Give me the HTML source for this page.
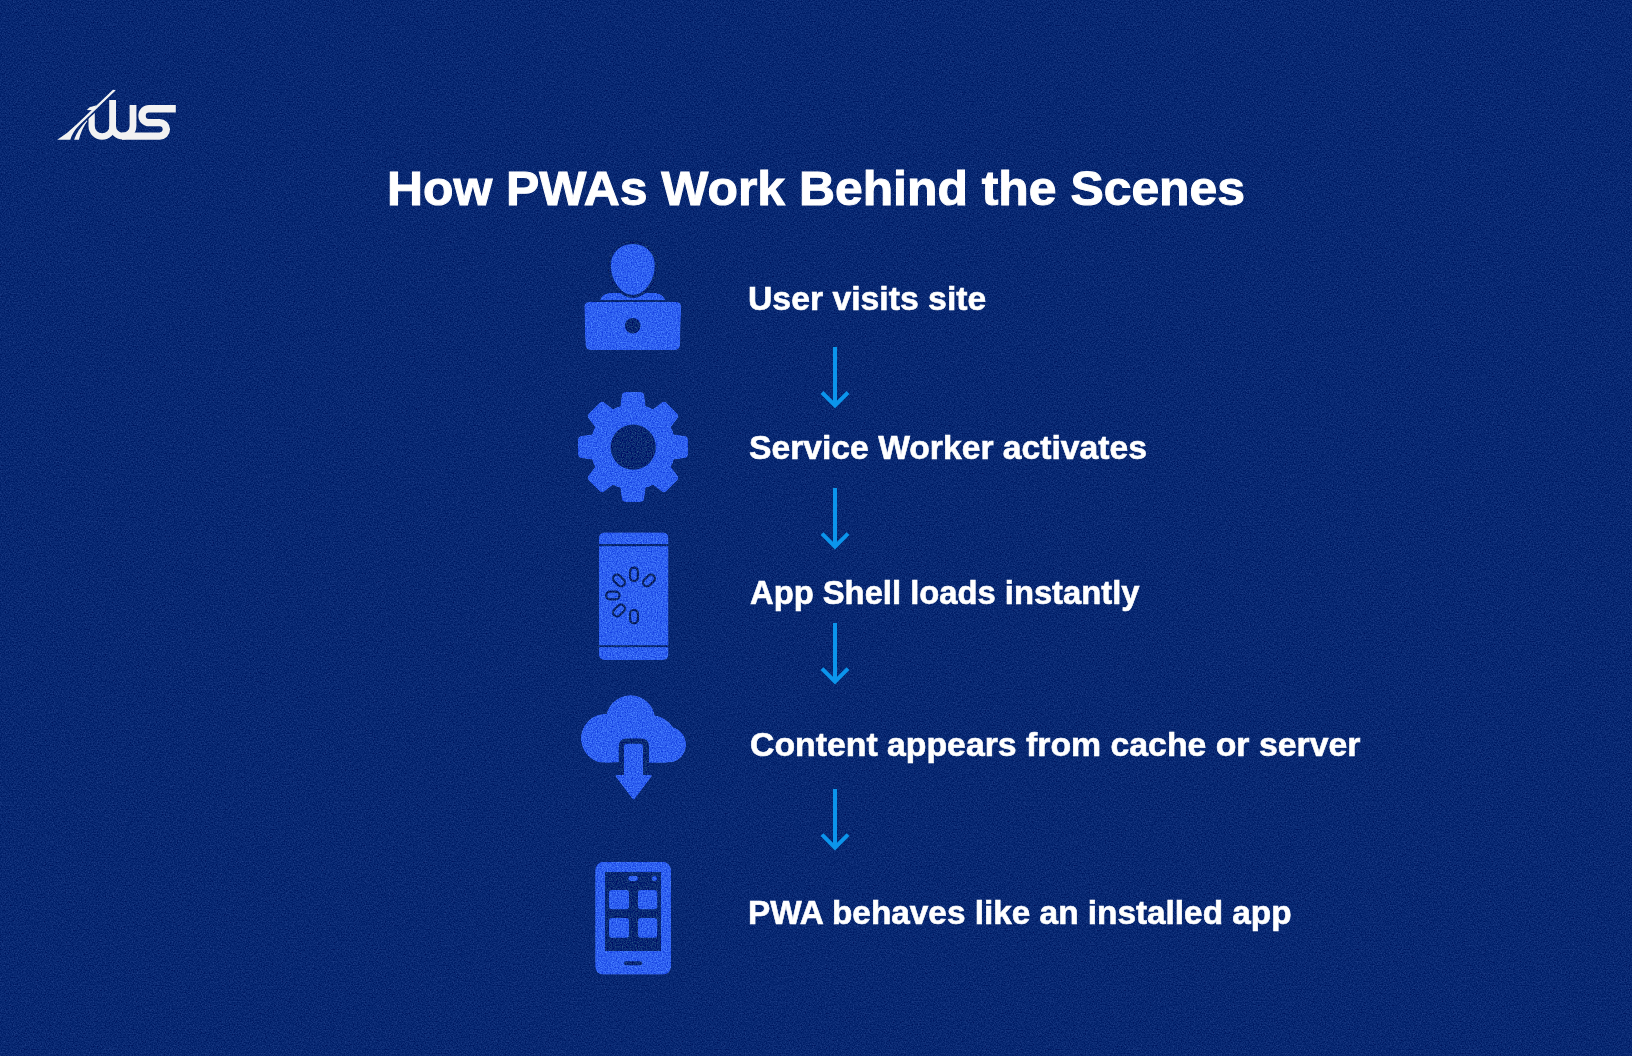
<!DOCTYPE html>
<html>
<head>
<meta charset="utf-8">
<style>
html,body{margin:0;padding:0;}
body{width:1632px;height:1056px;overflow:hidden;position:relative;background:#082872;font-family:"Liberation Sans",sans-serif;}
.t{position:absolute;white-space:nowrap;line-height:1;color:#fff;font-weight:700;transform-origin:0 0;}
svg.abs{position:absolute;left:0;top:0;}
</style>
</head>
<body>
<svg class="abs" width="1632" height="1056" viewBox="0 0 1632 1056">
  <defs><clipPath id="wclip"><path d="M80,126.3 L100,108.2 L120,108.2 L120,150 L80,150 Z"/></clipPath><clipPath id="cloudclip"><rect x="570" y="680" width="130" height="82.8"/></clipPath>
    <filter id="nzBg" x="0" y="0" width="1632" height="1056" filterUnits="userSpaceOnUse" color-interpolation-filters="sRGB">
      <feTurbulence type="fractalNoise" baseFrequency="0.75" numOctaves="2" seed="7" result="t"/>
      <feColorMatrix in="t" type="matrix" values="0.6 0 0 0 0.2  0.6 0 0 0 0.2  0.6 0 0 0 0.2  0 0 0 0 1" result="n"/>
      <feComposite in="SourceGraphic" in2="n" operator="arithmetic" k1="0" k2="1" k3="0.4" k4="-0.2"/>
    </filter>
    <filter id="nzIc" x="560" y="230" width="140" height="760" filterUnits="userSpaceOnUse" color-interpolation-filters="sRGB">
      <feTurbulence type="fractalNoise" baseFrequency="0.8" numOctaves="2" seed="3" result="t"/>
      <feColorMatrix in="t" type="matrix" values="0.8 0 0 0 0.1  1 0 0 0 0  0.5 0 0 0 0.25  0 0 0 0 1" result="n"/>
      <feComposite in="SourceGraphic" in2="n" operator="arithmetic" k1="0" k2="1" k3="0.5" k4="-0.25" result="c"/>
      <feComposite in="c" in2="SourceGraphic" operator="in"/>
    </filter>
  </defs>
  <rect width="1632" height="1056" fill="#082872" filter="url(#nzBg)"/>
  <!-- logo -->
  <g fill="none" stroke="#f2f2f2">
    <path d="M91.65,112 V126 A10.45,10.45 0 0 0 112.6,126" stroke-width="6.3" clip-path="url(#wclip)"/>
    <path d="M112.6,100 V126 A10.2,10.2 0 0 0 133,126 V105" stroke-width="6.8"/>
    <path d="M175.8,108.7 H149 A6.95,6.95 0 0 0 149,122.6 H159.6 A6.75,6.75 0 0 1 159.6,136.1 H122" stroke-width="7.4"/>
  </g>
  <g fill="#f2f2f2">
    <path d="M113,89.8 L115.8,90.3 L89,116 L79,125.5 Q72.5,132 70.3,139.8 L57.2,139.8 Q68,133 76.5,124.5 L87.8,113.8 Z"/>
    <path d="M86.8,120.4 L87.4,121 Q81.5,129 78.9,139.8 L74.1,139.8 Q77.5,129.5 86.8,120.4 Z"/>
    <path d="M86.8,109.9 L89.6,107.3 L96.5,105.2 L93.6,110.3 Z"/>
  </g>
  <g fill="#2e60f0" filter="url(#nzIc)">
    <!-- icon 1: user at laptop -->
    <path d="M600,300 C601.5,295.5 605,293 611,293 L654,293 C660,293 663.5,295.5 665.5,300 Z"/>
    <path d="M632.8,242.6 C647,242.6 656.2,252.5 656.2,265.5 C656.2,281.5 645.5,296.4 632.8,296.4 C620.1,296.4 609.4,281.5 609.4,265.5 C609.4,252.5 618.6,242.6 632.8,242.6 Z" stroke="#082872" stroke-width="3"/>
    <path d="M589,302 H676.5 Q681.3,302 681.2,307 L680.2,344.5 Q680,350.2 674.5,350.2 H591 Q585.5,350.2 585.3,344.5 L584.2,307 Q584.1,302 589,302 Z"/>
    <circle cx="632.7" cy="325.8" r="7.8" fill="#082872"/>

    <!-- icon 2: gear -->
    <circle cx="633" cy="447" r="43"/>
    <g stroke="#2e60f0" stroke-width="7.6" stroke-linejoin="round">
      <path d="M-9.6,-36 L-7.6,-51.2 L7.6,-51.2 L9.6,-36 Z" transform="translate(633 447) rotate(0)"/>
      <path d="M-9.6,-36 L-7.6,-51.2 L7.6,-51.2 L9.6,-36 Z" transform="translate(633 447) rotate(45)"/>
      <path d="M-9.6,-36 L-7.6,-51.2 L7.6,-51.2 L9.6,-36 Z" transform="translate(633 447) rotate(90)"/>
      <path d="M-9.6,-36 L-7.6,-51.2 L7.6,-51.2 L9.6,-36 Z" transform="translate(633 447) rotate(135)"/>
      <path d="M-9.6,-36 L-7.6,-51.2 L7.6,-51.2 L9.6,-36 Z" transform="translate(633 447) rotate(180)"/>
      <path d="M-9.6,-36 L-7.6,-51.2 L7.6,-51.2 L9.6,-36 Z" transform="translate(633 447) rotate(225)"/>
      <path d="M-9.6,-36 L-7.6,-51.2 L7.6,-51.2 L9.6,-36 Z" transform="translate(633 447) rotate(270)"/>
      <path d="M-9.6,-36 L-7.6,-51.2 L7.6,-51.2 L9.6,-36 Z" transform="translate(633 447) rotate(315)"/>
    </g>
    <circle cx="633.2" cy="447.2" r="22.6" fill="#082872"/>

    <!-- icon 3: phone loading -->
    <rect x="598.8" y="532.2" width="69.8" height="127.8" rx="5.5"/>
    <rect x="597" y="544" width="73" height="2.2" fill="#082872"/>
    <rect x="597" y="645.2" width="73" height="2" fill="#082872"/>
    <g stroke="#0a2463" stroke-width="2.2" transform="translate(634 595.5)">
      <rect x="-3.9" y="-27.9" width="7.8" height="13.4" rx="3.9" transform="rotate(0)"/>
      <rect x="-3.9" y="-27.9" width="7.8" height="13.4" rx="3.9" transform="rotate(45)"/>
      <rect x="-3.9" y="-27.9" width="7.8" height="13.4" rx="3.9" transform="rotate(-45)"/>
      <rect x="-3.9" y="-27.9" width="7.8" height="13.4" rx="3.9" transform="rotate(-90)"/>
      <rect x="-3.9" y="-27.9" width="7.8" height="13.4" rx="3.9" transform="rotate(-135)"/>
      <rect x="-3.9" y="-27.9" width="7.8" height="13.4" rx="3.9" transform="rotate(180)"/>
    </g>

    <!-- icon 4: cloud download -->
    <g clip-path="url(#cloudclip)">
    <circle cx="605.6" cy="738.5" r="24.8"/>
    <circle cx="630.5" cy="719.8" r="24.8"/>
    <circle cx="651" cy="741" r="26"/>
    <circle cx="668" cy="744.6" r="18.2"/>
    <rect x="605" y="730" width="63" height="32.8"/>
    </g>
    <path d="M618.8,775 V746.5 Q618.8,738.5 626.8,738.5 H641 Q649,738.5 649,746.5 V775 Z" fill="#082872"/>
    <path d="M624,775 V747 Q624,743.8 627.2,743.8 H639.8 Q643,743.8 643,747 V775 Z"/>
    <path d="M616.5,775 H651 Q653,775 651.6,776.8 L635,798.8 Q633.6,800.6 632.2,798.8 L615.6,776.8 Q614.4,775 616.5,775 Z"/>

    <!-- icon 5: phone apps -->
    <rect x="595.1" y="861.8" width="76" height="113" rx="8"/>
    <rect x="605" y="872" width="56" height="79" fill="#082872"/>
    <rect x="628.3" y="876" width="9.7" height="4.9" rx="2.4"/>
    <circle cx="654.5" cy="878.6" r="2.5"/>
    <rect x="609" y="889.9" width="20" height="19.3" rx="3"/>
    <rect x="638" y="889.9" width="19.2" height="19.3" rx="3"/>
    <rect x="609" y="918.1" width="20" height="19.7" rx="3"/>
    <rect x="638" y="918.1" width="19.2" height="19.7" rx="3"/>
    <rect x="624" y="961.2" width="18.2" height="4" rx="2" fill="#082872"/>
  </g>
</svg>
<div class="t" id="title" style="left:387.14px;top:164.57px;font-size:48px;-webkit-text-stroke:1.0px #fff;transform:scaleX(1.03888)">How PWAs Work Behind the Scenes</div>
<div class="t" id="s1" style="left:747.77px;top:282.79px;font-size:32.5px;-webkit-text-stroke:0.6px #fff;transform:scaleX(1.03851)">User visits site</div>
<div class="t" id="s2" style="left:748.54px;top:432.25px;font-size:32.5px;-webkit-text-stroke:0.6px #fff;transform:scaleX(1.03571)">Service Worker activates</div>
<div class="t" id="s3" style="left:750.00px;top:577.45px;font-size:32.5px;-webkit-text-stroke:0.6px #fff;transform:scaleX(1.00786)">App Shell loads instantly</div>
<div class="t" id="s4" style="left:749.52px;top:729.25px;font-size:32.5px;-webkit-text-stroke:0.6px #fff;transform:scaleX(1.03980)">Content appears from cache or server</div>
<div class="t" id="s5" style="left:747.75px;top:897.20px;font-size:32.5px;-webkit-text-stroke:0.6px #fff;transform:scaleX(1.02598)">PWA behaves like an installed app</div>
<svg class="abs" width="1632" height="1056" viewBox="0 0 1632 1056">
  <g stroke="#0b95ec" stroke-width="4" fill="none" stroke-linecap="butt" stroke-linejoin="miter">
    <path d="M835 347 V404 M822 392.5 L835 405.5 L848 392.5"/>
    <path d="M835 488 V545 M822 533.6 L835 546.6 L848 533.6"/>
    <path d="M835 623 V680 M822 668.6 L835 681.6 L848 668.6"/>
    <path d="M835 789 V846 M822 834.7 L835 847.7 L848 834.7"/>
  </g>
</svg>
</body>
</html>
